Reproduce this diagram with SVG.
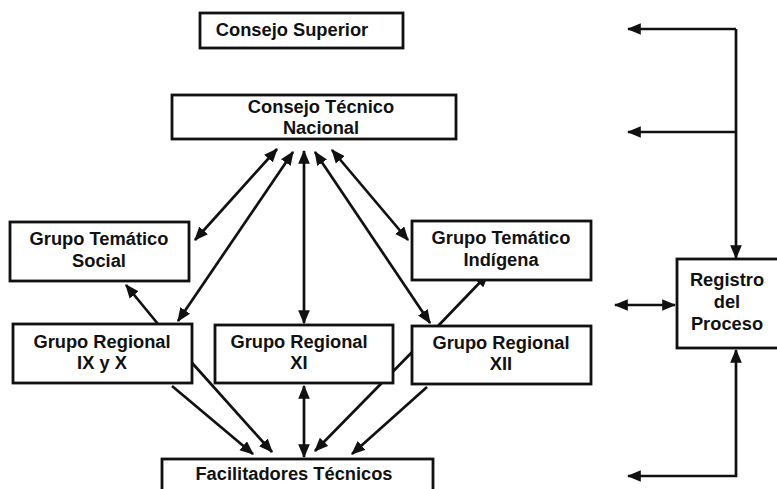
<svg xmlns="http://www.w3.org/2000/svg" width="777" height="489" viewBox="0 0 777 489">
<defs>
<marker id="ah" viewBox="0 0 12 10" refX="11" refY="5" markerWidth="14" markerHeight="12" markerUnits="userSpaceOnUse" orient="auto-start-reverse">
<path d="M0,0 L12,5 L0,10 z" fill="#111"/>
</marker>
<style>
.box{fill:#fff;stroke:#111;stroke-width:2.8}
.t{font-family:"Liberation Sans",Arial,sans-serif;font-weight:bold;font-size:18.3px;fill:#111;text-anchor:middle}
.c{fill:none;stroke:#111;stroke-width:2.7}
.e{marker-end:url(#ah)}
.b{marker-start:url(#ah);marker-end:url(#ah)}
</style>
</defs>
<rect width="777" height="489" fill="#fff"/>
<g id="connectors">
<line class="c b" x1="195" y1="240" x2="277" y2="149"/>
<line class="c b" x1="178" y1="321" x2="293" y2="152"/>
<line class="c b" x1="304" y1="323" x2="304" y2="151"/>
<line class="c b" x1="430" y1="323" x2="315" y2="152"/>
<line class="c b" x1="408" y1="240" x2="332" y2="150"/>
<line class="c e" x1="158" y1="324" x2="126" y2="285"/>
<line class="c e" x1="438" y1="326" x2="488" y2="274"/>
<line class="c e" x1="172" y1="386" x2="253" y2="454"/>
<line class="c e" x1="185" y1="355" x2="272" y2="452"/>
<line class="c b" x1="304" y1="386" x2="304" y2="457"/>
<line class="c e" x1="420" y1="344" x2="315" y2="451"/>
<line class="c e" x1="427" y1="387" x2="352" y2="454"/>
<path class="c e" d="M736,29 H628"/>
<path class="c e" d="M736,29 V258"/>
<path class="c e" d="M736,132 H628"/>
<line class="c b" x1="615" y1="305" x2="675" y2="305"/>
<path class="c b" d="M736,350 V476 H628"/>
</g>
<g id="consejo-superior">
<rect class="box" x="200" y="13" width="203" height="35"/>
<text class="t" x="292" y="36">Consejo Superior</text>
</g>
<g id="consejo-tecnico">
<rect class="box" x="172" y="95" width="284" height="44"/>
<text class="t" x="321" y="113">Consejo Técnico</text>
<text class="t" x="321" y="134">Nacional</text>
</g>
<g id="gt-social">
<rect class="box" x="10" y="222" width="179" height="59"/>
<text class="t" x="99" y="245">Grupo Temático</text>
<text class="t" x="99" y="267">Social</text>
</g>
<g id="gt-indigena">
<rect class="box" x="412" y="221" width="179" height="59"/>
<text class="t" x="501" y="244">Grupo Temático</text>
<text class="t" x="501" y="266">Indígena</text>
</g>
<g id="gr-ix-x">
<rect class="box" x="13" y="324" width="179" height="59"/>
<text class="t" x="102" y="348">Grupo Regional</text>
<text class="t" x="102" y="369">IX y X</text>
</g>
<g id="gr-xi">
<rect class="box" x="215" y="325" width="178" height="58"/>
<text class="t" x="299" y="348">Grupo Regional</text>
<text class="t" x="299" y="369">XI</text>
</g>
<g id="gr-xii">
<rect class="box" x="412" y="326" width="179" height="58"/>
<text class="t" x="501" y="349">Grupo Regional</text>
<text class="t" x="501" y="370">XII</text>
</g>
<g id="facilitadores">
<rect class="box" x="162" y="459" width="271" height="40"/>
<text class="t" x="294" y="480">Facilitadores Técnicos</text>
</g>
<g id="registro">
<rect class="box" x="677" y="259" width="110" height="89"/>
<text class="t" x="727" y="286">Registro</text>
<text class="t" x="727" y="308">del</text>
<text class="t" x="727" y="330">Proceso</text>
</g>
</svg>
